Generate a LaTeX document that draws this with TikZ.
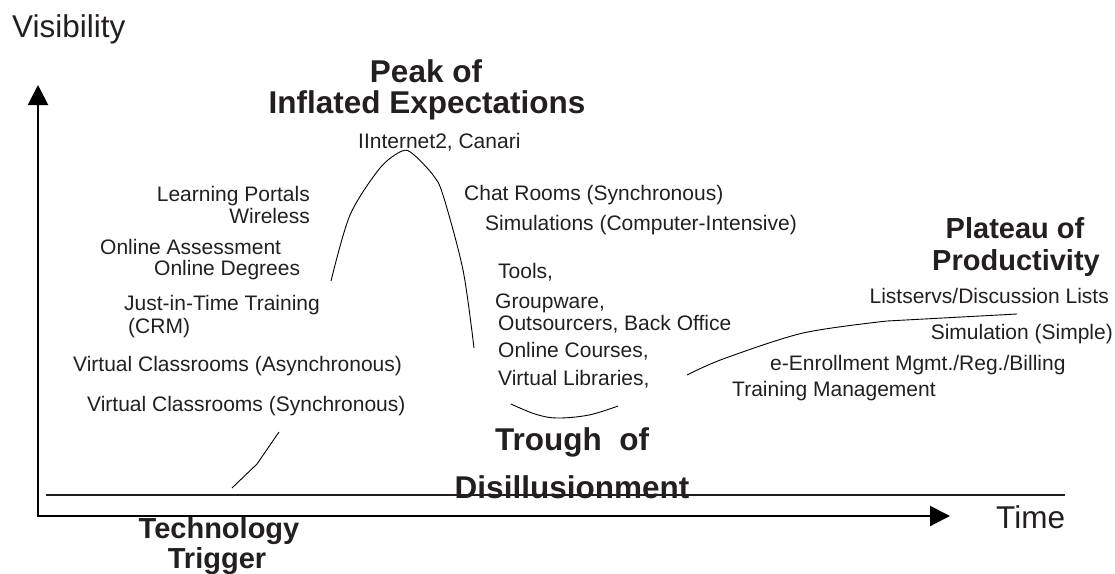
\documentclass[tikz,border=0pt]{standalone}
\usepackage{fontspec}
\setmainfont{Liberation Sans}
\usetikzlibrary{arrows.meta}
\definecolor{ink}{HTML}{231F20}
\begin{document}
\begin{tikzpicture}[x=1pt,y=-1pt,
  item/.style={font=\fontsize{21}{24}\selectfont,text=ink,inner sep=0pt,anchor=base west},
  itemr/.style={item,anchor=base east},
  phase/.style={font=\bfseries\fontsize{31.5}{34}\selectfont,text=ink,inner sep=0pt,anchor=base},
  phasesm/.style={phase,font=\bfseries\fontsize{29}{32}\selectfont},
  axislabel/.style={font=\fontsize{31.5}{34}\selectfont,text=ink,inner sep=0pt,anchor=base west},
  axisline/.style={line width=2pt,line join=miter,black},
  curve/.style={line width=0.9pt,black,line join=round}]
\useasboundingbox (0,0) rectangle (1115,573);

% axes
\coordinate (ytip) at (38,85);
\coordinate (origin) at (38,516);
\coordinate (xtip) at (950,516);
\draw[axisline,{Triangle[length=20pt,width=20pt]}-{Triangle[length=20pt,width=20pt]}] (ytip) -- (origin) -- (xtip);

% reference line just above the time axis
\coordinate (refL) at (46,495);
\coordinate (refR) at (1065,495);
\draw[line width=1.4pt,ink] (refL) -- (refR);

\node[axislabel] (vis) at (12,37) {Visibility};
\node[axislabel] (time) at (996,528) {Time};

% the hype curve, in pieces
\draw[curve] (232,488) -- (257,464) -- (279,432);
\draw[curve] plot[smooth,tension=0.5] coordinates {(331,281) (350,215) (380,168) (402,151) (413,154) (433,175) (443,195) (463,270) (474,348)};
\draw[curve] plot[smooth,tension=0.6] coordinates {(511,404) (535,414) (557,418) (589,415) (618,406)};
\draw[curve] plot[smooth,tension=0.5] coordinates {(687,375) (723,359) (803,333) (887,321)} -- (1017,314);

% phase headings
\node[phase] (peakA) at (426,82) {Peak of};
\node[phase] (peakB) at (427,113) {Inflated Expectations};
\node[phase] (troughA) at (572,450) {Trough\ \ of};
\node[phase] (troughB) at (572,498) {Disillusionment};
\node[phasesm] (trigA) at (219,538) {Technology};
\node[phasesm] (trigB) at (217,568) {Trigger};
\node[phasesm] (platA) at (1015,238) {Plateau of};
\node[phasesm] (platB) at (1016,270) {Productivity};

% rising slope
\node[itemr] (portals) at (310,201) {Learning Portals};
\node[itemr] (wireless) at (310,223) {Wireless};
\node[item] (assess) at (100,254) {Online Assessment};
\node[item] (degrees) at (154,275) {Online Degrees};
\node[item] (jit) at (124,310) {Just-in-Time Training};
\node[item] (crm) at (128,333) {(CRM)};
\node[item] (vcasync) at (73,371) {Virtual Classrooms (Asynchronous)};
\node[item] (vcsync) at (87,411) {Virtual Classrooms (Synchronous)};

% peak
\node[item] (inet) at (358,148) {IInternet2, Canari};

% falling slope
\node[item] (chat) at (464,200) {Chat Rooms (Synchronous)};
\node[item] (simci) at (485,230) {Simulations (Computer-Intensive)};
\node[item] (tools) at (498,278) {Tools,};
\node[item] (group) at (495,308) {Groupware,};
\node[item] (outs) at (498,330) {Outsourcers, Back Office};
\node[item] (courses) at (498,357) {Online Courses,};
\node[item] (libs) at (498,385) {Virtual Libraries,};

% plateau
\node[itemr] (lists) at (1109,303) {Listservs/Discussion Lists};
\node[itemr] (simple) at (1113,339) {Simulation (Simple)};
\node[item] (enroll) at (770,370) {e-Enrollment Mgmt./Reg./Billing};
\node[item] (trainm) at (732,396) {Training Management};
\end{tikzpicture}
\end{document}
